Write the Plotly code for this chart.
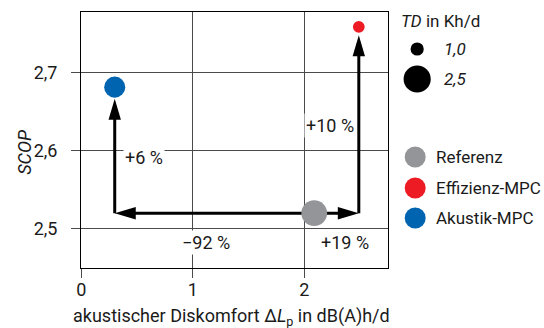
import plotly.graph_objects as go

# ---------------- data ----------------
methods = ["Referenz", "Effizienz-MPC", "Akustik-MPC"]
discomfort = [2.09, 2.49, 0.30]          # akustischer Diskomfort in dB(A)h/d
scop = [2.52, 2.758, 2.681]              # SCOP
td = [2.4, 0.9, 1.9]                     # TD in Kh/d (marker size)
colors = ["#939598", "#ED1C24", "#0064B0"]

x_ticks = [0, 1, 2]
y_ticks = [2.5, 2.6, 2.7]
td_legend = [1.0, 2.5]
td_legend_labels = ["1,0", "2,5"]
change_labels = ["\u221292 %", "+19 %", "+6 %", "+10 %"]

# ---------------- layout constants ----------------
W, H = 544, 328
PL, PR, PT, PB = 77, 387, 12, 268
X_RANGE = [0, 2.756]
Y_RANGE = [2.45, 2.777]
FONT = "Roboto"
FS = 18
FS_LEG = 17
TXT = "#1a1a1a"
px_x = (PR - PL) / (X_RANGE[1] - X_RANGE[0])
px_y = (PB - PT) / (Y_RANGE[1] - Y_RANGE[0])


def msize(v):
    return 3.4 + 9.3 * v


REF, EFF, AKU = 0, 1, 2
HEAD_LEN, HEAD_HALF, BACK = 21, 6.2, 12

corner_y = scop[REF]
left_tip = (discomfort[AKU], corner_y)
right_tip = (discomfort[EFF], corner_y)
up_aku = (discomfort[AKU], scop[AKU] - (msize(td[AKU]) / 2 + 1) / px_y)
up_eff = (discomfort[EFF], scop[EFF] - (msize(td[EFF]) / 2 + 2.5) / px_y)

fig = go.Figure()

shaft = dict(mode="lines", line=dict(color="black", width=3), hoverinfo="skip", showlegend=False)
fig.add_trace(go.Scatter(x=[left_tip[0] + BACK / px_x, right_tip[0] - BACK / px_x],
                         y=[corner_y, corner_y], **shaft))
fig.add_trace(go.Scatter(x=[up_aku[0], up_aku[0]], y=[corner_y, up_aku[1] - BACK / px_y], **shaft))
fig.add_trace(go.Scatter(x=[up_eff[0], up_eff[0]], y=[corner_y, up_eff[1] - BACK / px_y], **shaft))

for i, m in enumerate(methods):
    fig.add_trace(go.Scatter(x=[discomfort[i]], y=[scop[i]], mode="markers", name=m,
                             marker=dict(size=msize(td[i]), color=colors[i], opacity=1,
                                         line=dict(width=0)),
                             showlegend=False))

# arrowheads (pixel-sized paths anchored at the tips)
heads = [
    (left_tip, f"M0,0 L{HEAD_LEN},{HEAD_HALF} L{HEAD_LEN},{-HEAD_HALF} Z"),
    (right_tip, f"M0,0 L{-HEAD_LEN},{HEAD_HALF} L{-HEAD_LEN},{-HEAD_HALF} Z"),
    (up_aku, f"M0,0 L{-HEAD_HALF},{-HEAD_LEN} L{HEAD_HALF},{-HEAD_LEN} Z"),
    (up_eff, f"M0,0 L{-HEAD_HALF},{-HEAD_LEN} L{HEAD_HALF},{-HEAD_LEN} Z"),
]
for (tx, ty), p in heads:
    fig.add_shape(type="path", xref="x", yref="y", xsizemode="pixel", ysizemode="pixel",
                  xanchor=tx, yanchor=ty, path=p, fillcolor="black", line=dict(width=0),
                  layer="above")

# change labels
lab = dict(showarrow=False, font=dict(family=FONT, size=FS, color=TXT), bgcolor="white",
           borderpad=1, xref="x", yref="y")
fig.add_annotation(text=change_labels[0], x=(discomfort[AKU] + discomfort[REF]) / 2, y=corner_y,
                   xanchor="center", yanchor="middle", xshift=-8, yshift=-29, **lab)
fig.add_annotation(text=change_labels[1], x=(discomfort[REF] + discomfort[EFF]) / 2, y=corner_y,
                   xanchor="center", yanchor="middle", xshift=8, yshift=-29, **lab)
fig.add_annotation(text=change_labels[2], x=discomfort[AKU], y=(corner_y + up_aku[1]) / 2,
                   xanchor="left", yanchor="middle", xshift=8, yshift=-2, **lab)
fig.add_annotation(text=change_labels[3], x=discomfort[EFF], y=(corner_y + up_eff[1]) / 2,
                   xanchor="right", yanchor="middle", xshift=-3, yshift=-1, **lab)

# ---------------- legend (pixel-coordinate overlay axes) ----------------
LEG_SIZE_X, LEG_SIZE_Y = 416, [49, 79]
LEG_COL_X, LEG_COL_Y = 414, [157, 188, 218]
fig.add_trace(go.Scatter(x=[LEG_SIZE_X] * 2, y=LEG_SIZE_Y, xaxis="x2", yaxis="y2", mode="markers",
                         marker=dict(size=[msize(v) + 0.5 for v in td_legend], color="black",
                                     opacity=1, line=dict(width=0)),
                         hoverinfo="skip", showlegend=False))
fig.add_trace(go.Scatter(x=[LEG_COL_X] * 3, y=LEG_COL_Y, xaxis="x2", yaxis="y2", mode="markers",
                         marker=dict(size=21, color=colors, opacity=1, line=dict(width=0)),
                         hoverinfo="skip", showlegend=False))
leg = dict(showarrow=False, font=dict(family=FONT, size=FS_LEG, color=TXT), xref="x2", yref="y2",
           xanchor="left", yanchor="middle")
fig.add_annotation(text="<i>TD</i> in Kh/d", x=398, y=21, **leg)
for yv, t in zip(LEG_SIZE_Y, td_legend_labels):
    fig.add_annotation(text=f"<i>{t}</i>", x=441, y=yv, **leg)
for yv, t in zip(LEG_COL_Y, methods):
    fig.add_annotation(text=t, x=433, y=yv, **leg)

# axis titles
fig.add_annotation(text="akustischer Diskomfort \u0394<i>L</i><sub>p</sub> in dB(A)h/d",
                   x=229, y=303, xref="x2", yref="y2", showarrow=False, xanchor="center",
                   yanchor="top", font=dict(family=FONT, size=FS, color=TXT))
fig.add_annotation(text="<i>SCOP</i>", x=19, y=152, xref="x2", yref="y2", showarrow=False,
                   textangle=-90, xanchor="center", yanchor="middle",
                   font=dict(family=FONT, size=FS, color=TXT))

axis_common = dict(showgrid=True, gridcolor="#4a4a4a", gridwidth=1, showline=True,
                   linecolor="black", linewidth=1.4, mirror=True, zeroline=False,
                   ticks="outside", ticklen=9, tickwidth=1, tickcolor="#4a4a4a",
                   tickfont=dict(family=FONT, size=FS, color=TXT), fixedrange=True)

fig.update_layout(
    width=W, height=H,
    margin=dict(l=0, r=0, t=0, b=0),
    paper_bgcolor="white", plot_bgcolor="rgba(0,0,0,0)",
    separators=",.",
    showlegend=False,
    xaxis=dict(domain=[PL / W, PR / W], range=X_RANGE, tickvals=x_ticks, tickformat="d",
               ticklabelstandoff=-4, anchor="y", **axis_common),
    yaxis=dict(domain=[1 - PB / H, 1 - PT / H], range=Y_RANGE, tickvals=y_ticks, tickformat=".1f",
               ticklabelstandoff=10, anchor="x", **axis_common),
    xaxis2=dict(domain=[0, 1], range=[0, W], visible=False, anchor="y2", fixedrange=True),
    yaxis2=dict(domain=[0, 1], range=[H, 0], visible=False, anchor="x2", fixedrange=True),
)

fig.write_html("out.html", config={"displayModeBar": False},
               post_script="document.body.style.margin='0px';document.body.style.overflow='hidden';")
